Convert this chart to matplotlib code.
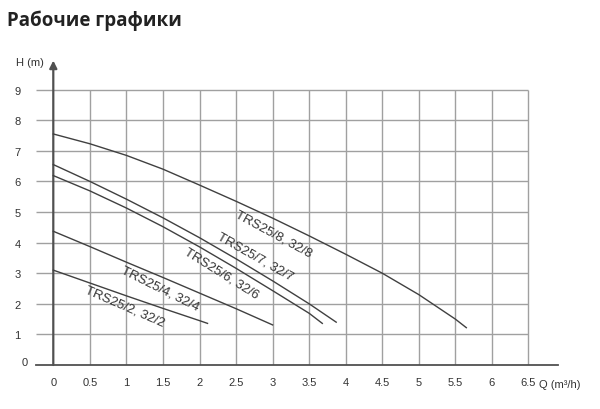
import numpy as np
from matplotlib import pyplot as plt
from matplotlib.transforms import ScaledTranslation

# pump curves: Q (m3/h) -> H (m)
q_8 = [0, 0.5, 1, 1.5, 2, 2.5, 3, 3.5, 4, 4.5, 5, 5.5, 5.65]
h_8 = [7.55, 7.23, 6.85, 6.40, 5.88, 5.35, 4.80, 4.22, 3.62, 3.0, 2.3, 1.5, 1.22]
q_7 = [0, 0.5, 1, 1.5, 2, 2.5, 3, 3.5, 3.87]
h_7 = [6.55, 6.0, 5.42, 4.81, 4.16, 3.47, 2.75, 2.0, 1.4]
q_6 = [0, 0.5, 1, 1.5, 2, 2.5, 3, 3.5, 3.68]
h_6 = [6.19, 5.69, 5.13, 4.52, 3.86, 3.16, 2.43, 1.69, 1.36]
q_4 = [0, 0.5, 1, 1.5, 2, 2.5, 3]
h_4 = [4.37, 3.87, 3.36, 2.86, 2.35, 1.84, 1.31]
q_2 = [0, 0.5, 1, 1.5, 2, 2.11]
h_2 = [3.1, 2.68, 2.26, 1.85, 1.45, 1.36]

labels = ['TRS25/8, 32/8', 'TRS25/7, 32/7', 'TRS25/6, 32/6', 'TRS25/4, 32/4', 'TRS25/2, 32/2']
label_pos = [(3.02, 4.3), (2.76, 3.55), (2.30, 3.03), (1.46, 2.52), (0.98, 1.94)]
label_rot = [-28.5, -29.5, -32, -26.5, -23.5]

x_ticks = [0, 0.5, 1, 1.5, 2, 2.5, 3, 3.5, 4, 4.5, 5, 5.5, 6, 6.5]
x_ticklabels = ['0', '0.5', '1', '1.5', '2', '2.5', '3', '3.5', '4', '4.5', '5', '5.5', '6', '6.5']
y_ticks = [0, 1, 2, 3, 4, 5, 6, 7, 8, 9]

fig = plt.figure(figsize=(6, 4.1), dpi=100)
ax = fig.add_axes([36 / 600, 1 - 366 / 410, 524 / 600, 306 / 410])
x0 = (36 - 53.3) / 73.1
ax.set_xlim(x0, (560 - 53.3) / 73.1)
ax.set_ylim(0, 306 / 30.6)

grid_c = '#a0a0a0'
ax.hlines(y_ticks[1:], x0, 6.5, color=grid_c, lw=1.0, zorder=1)
ax.vlines(x_ticks[1:], 0, 9, color=grid_c, lw=1.0, zorder=1)

for s in ['top', 'right', 'left']:
    ax.spines[s].set_visible(False)
ax.spines['bottom'].set_color('#505050')
ax.spines['bottom'].set_linewidth(1.3)
ax.spines['bottom'].set_bounds(x0, (558 - 53.3) / 73.1)

# y axis with arrow
ax.annotate('', xy=(0, 9.95), xytext=(0, 0),
            arrowprops=dict(arrowstyle='-|>', color='#505050', lw=1.6,
                            mutation_scale=11, shrinkA=0, shrinkB=0))

line_c = '#404040'
for q, h in [(q_8, h_8), (q_7, h_7), (q_6, h_6), (q_4, h_4), (q_2, h_2)]:
    ax.plot(q, h, color=line_c, lw=1.0, zorder=3)

for txt, (lx, ly), rot in zip(labels, label_pos, label_rot):
    ax.text(lx, ly, txt, rotation=rot, rotation_mode='anchor', ha='center', va='center',
            fontsize=9.5, family='Liberation Sans', color='#333333')

ax.set_xticks(x_ticks)
ax.set_xticklabels(x_ticklabels)
ax.set_yticks(y_ticks)
ax.tick_params(length=0, labelsize=8, labelcolor='#333333')
ax.tick_params(axis='x', pad=9)
ax.tick_params(axis='y', pad=11)
for lbl in ax.get_xticklabels() + ax.get_yticklabels():
    lbl.set_family('Liberation Sans')
zero = ax.get_yticklabels()[0]
zero.set_transform(zero.get_transform() + ScaledTranslation(7 / 100, 4 / 100, fig.dpi_scale_trans))

fig.text(30 / 600, 1 - 63 / 410, 'H (m)', ha='center', va='center', fontsize=8,
         family='Liberation Sans', color='#333333')
fig.text(539 / 600, 1 - 385 / 410, 'Q (m³/h)', ha='left', va='center', fontsize=8,
         family='Liberation Sans', color='#333333')

fig.text(7 / 600, 1 - 26 / 410, 'Рабочие графики', ha='left', va='baseline',
         fontsize=13.5, fontweight='bold', family='Open Sans', color='#222222')

plt.savefig('out.png', dpi=100)
